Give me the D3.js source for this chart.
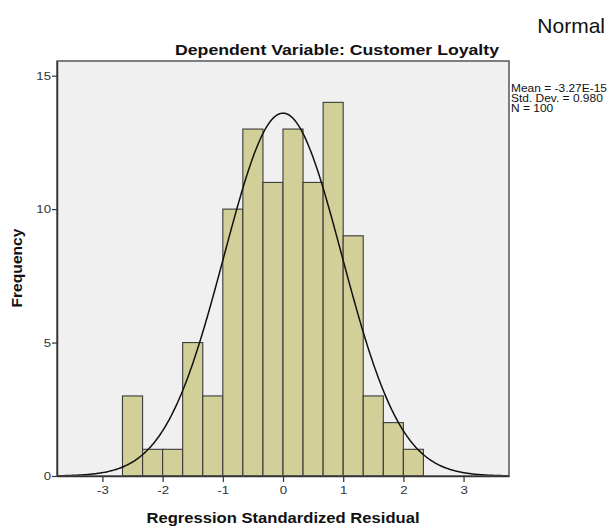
<!DOCTYPE html>
<html>
<head>
<meta charset="utf-8">
<script src="https://cdn.jsdelivr.net/npm/d3@7"></script>
<style>
  html, body { margin: 0; padding: 0; background: #fff; }
  svg { display: block; font-family: "Liberation Sans", Arial, sans-serif; }
</style>
</head>
<body>
<svg id="chart" width="609" height="529"></svg>
<script>
// ---- data ----
const binLower = [-2.667, -2.333, -2.0, -1.667, -1.333, -1.0, -0.667, -0.333, 0.0, 0.333, 0.667, 1.0, 1.333, 1.667, 2.0];
const binUpper = [-2.333, -2.0, -1.667, -1.333, -1.0, -0.667, -0.333, 0.0, 0.333, 0.667, 1.0, 1.333, 1.667, 2.0, 2.333];
const counts   = [3, 1, 1, 5, 3, 10, 13, 11, 13, 11, 14, 9, 3, 2, 1];
const xTicks = [-3, -2, -1, 0, 1, 2, 3];
const yTicks = [0, 5, 10, 15];
const statMean = -3.27e-15;
const statSD = 0.980;
const statN = 100;
const legendLines = ["Mean = -3.27E-15", "Std. Dev. = 0.980", "N = 100"];
const titleText = "Normal";
const subtitleText = "Dependent Variable: Customer Loyalty";
const xLabel = "Regression Standardized Residual";
const yLabel = "Frequency";

// ---- layout ----
const svg = d3.select("#chart");
const L = 57, R = 509, T = 61, B = 476;
const x = d3.scaleLinear().domain([-3.755, 3.755]).range([L, R]);
const y = d3.scaleLinear().domain([0, 15.55]).range([B, T]);

// stretch a text horizontally by a factor
function stretch(sel, f) {
  sel.each(function () {
    const w = this.getComputedTextLength();
    d3.select(this).attr("textLength", w * f).attr("lengthAdjust", "spacingAndGlyphs");
  });
}

// plot background
svg.append("rect").attr("x", L).attr("y", T).attr("width", R - L).attr("height", B - T)
  .attr("fill", "#f0f0f0");

// bars
svg.append("g").selectAll("rect").data(counts).join("rect")
  .attr("x", (d, i) => x(binLower[i]))
  .attr("width", (d, i) => x(binUpper[i]) - x(binLower[i]))
  .attr("y", d => y(d))
  .attr("height", d => y(0) - y(d))
  .attr("fill", "#d3cf98")
  .attr("stroke", "#3a3a3a")
  .attr("stroke-width", 1.1);

// normal curve
const binW = binUpper[0] - binLower[0];
const pdf = v => statN * binW / (statSD * Math.sqrt(2 * Math.PI)) * Math.exp(-0.5 * Math.pow((v - statMean) / statSD, 2));
const xs = d3.range(-3.755, 3.7551, 0.02);
svg.append("path").datum(xs)
  .attr("fill", "none").attr("stroke", "#111").attr("stroke-width", 1.5)
  .attr("d", d3.line().x(v => x(v)).y(v => y(pdf(v))));

// frame
svg.append("rect").attr("x", L).attr("y", T).attr("width", R - L).attr("height", B - T)
  .attr("fill", "none").attr("stroke", "#555").attr("stroke-width", 1.5);

// axes
const xAxis = svg.append("g").attr("transform", `translate(0,${B})`)
  .call(d3.axisBottom(x).tickValues(xTicks).tickSize(6).tickSizeOuter(0).tickFormat(d => String(d)));
const yAxis = svg.append("g").attr("transform", `translate(${L},0)`)
  .call(d3.axisLeft(y).tickValues(yTicks).tickSize(5).tickSizeOuter(0).tickFormat(d => String(d)));
[xAxis, yAxis].forEach(g => {
  g.select(".domain").attr("stroke", "#333").attr("stroke-width", 1.5);
  g.selectAll(".tick line").attr("stroke", "#333").attr("stroke-width", 1.2);
  g.selectAll(".tick text").attr("fill", "#333").style("font-size", "11.5px")
    .style("font-family", "'Liberation Sans', Arial, sans-serif");
});
xAxis.selectAll(".tick text").attr("dy", "0.9em").attr("y", 8);
yAxis.selectAll(".tick text").attr("x", -6);
stretch(xAxis.selectAll(".tick text"), 1.15);
stretch(yAxis.selectAll(".tick text"), 1.15);

// texts
svg.append("text").attr("x", 605).attr("y", 33).attr("text-anchor", "end")
  .style("font-size", "21px").attr("fill", "#111").text(titleText);
svg.append("text").attr("x", 337).attr("y", 55).attr("text-anchor", "middle")
  .style("font-size", "15px").style("font-weight", "bold").attr("fill", "#111").text(subtitleText)
  .attr("textLength", 324).attr("lengthAdjust", "spacingAndGlyphs");
svg.append("text").attr("x", 283).attr("y", 523).attr("text-anchor", "middle")
  .style("font-size", "15px").style("font-weight", "bold").attr("fill", "#111").text(xLabel)
  .attr("textLength", 273).attr("lengthAdjust", "spacingAndGlyphs");
svg.append("text").attr("transform", "translate(22,268) rotate(-90)").attr("text-anchor", "middle")
  .style("font-size", "14px").style("font-weight", "bold").attr("fill", "#111").text(yLabel)
  .attr("textLength", 79).attr("lengthAdjust", "spacingAndGlyphs");
const leg = svg.append("g").selectAll("text").data(legendLines).join("text")
  .attr("x", 511).attr("y", (d, i) => 92 + i * 9.8)
  .style("font-size", "10.3px").attr("fill", "#111").text(d => d);
const legFactor = 96 / leg.node().getComputedTextLength();
stretch(leg, legFactor);
</script>
</body>
</html>
